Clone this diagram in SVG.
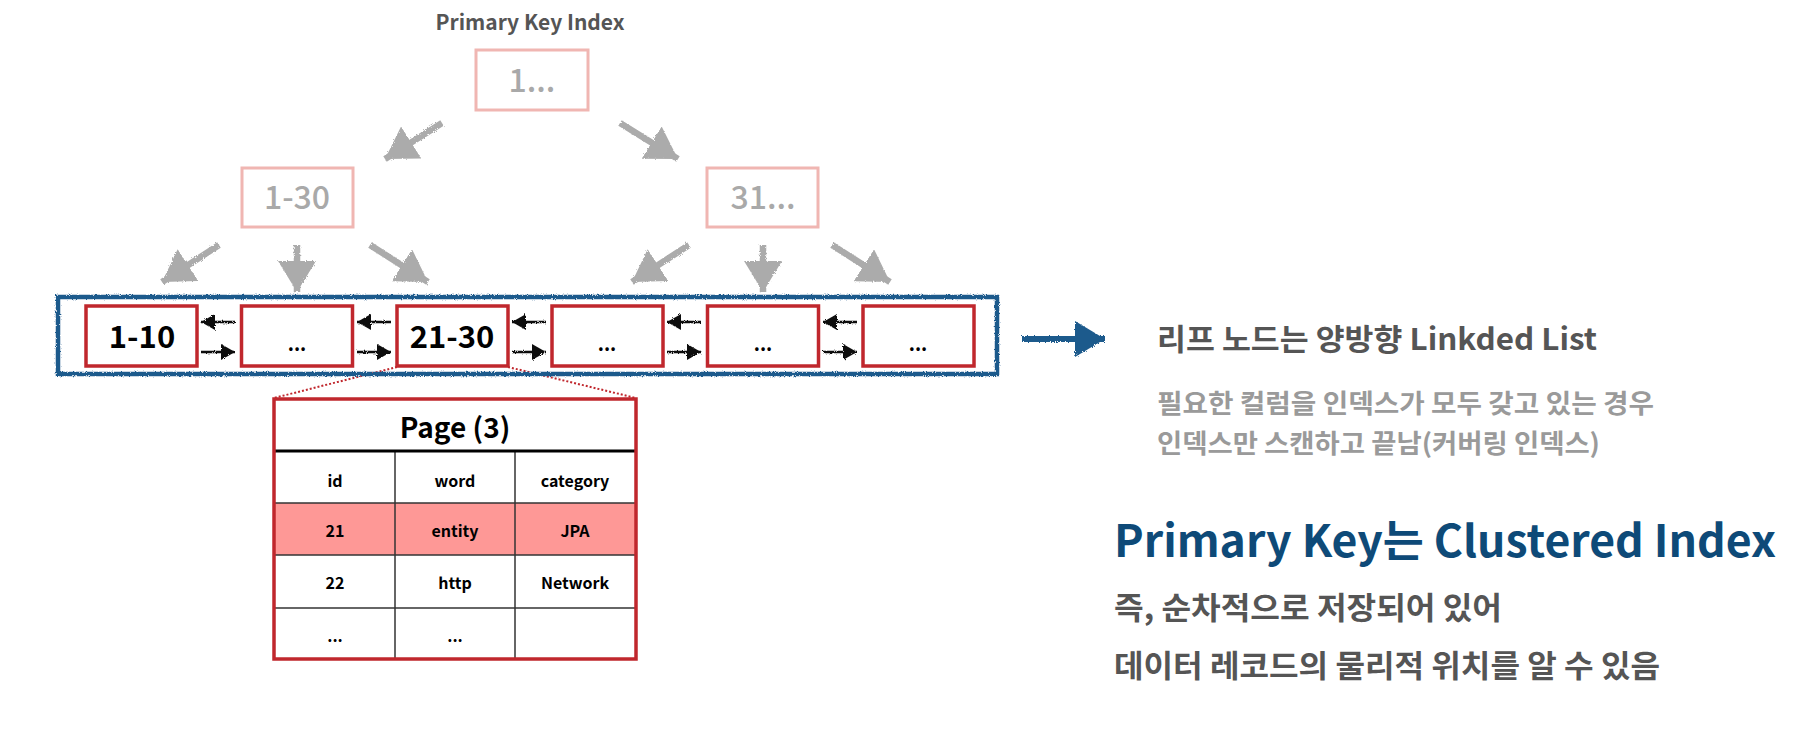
<svg xmlns="http://www.w3.org/2000/svg" width="1808" height="733" viewBox="0 0 1808 733">
<style>
.t{font-family:"Noto Sans CJK KR","Noto Sans",sans-serif}
.tree rect{fill:#fff;stroke:#f0b6b2;stroke-width:3}
.tree text{fill:#a9a9a9;font-size:32px;font-weight:500;text-anchor:middle}
.leaf rect{fill:#fff;stroke:#c0272d;stroke-width:3.5}
.leaf text{fill:#000;font-size:31px;font-weight:700;text-anchor:middle}
.leaf text.dots{font-size:19px}
.garr{stroke:#ababab;stroke-width:6.5;fill:none;marker-end:url(#gh)}
.barr{stroke:#111;stroke-width:2.5;fill:none;marker-end:url(#bh)}
.cell{font-size:16px;font-weight:700;fill:#000;text-anchor:middle}
.grid{stroke:#333;stroke-width:1.5}
</style>
<defs>
<filter id="rough" x="-5%" y="-10%" width="110%" height="120%">
<feTurbulence type="fractalNoise" baseFrequency="0.9" numOctaves="2" seed="3" result="n"/>
<feDisplacementMap in="SourceGraphic" in2="n" scale="3"/>
</filter>
<marker id="gh" markerUnits="userSpaceOnUse" markerWidth="34" markerHeight="40" refX="31" refY="19" orient="auto">
<path d="M0,0 L31,19 L0,38 Z" fill="#ababab"/>
</marker>
<marker id="bh" markerUnits="userSpaceOnUse" markerWidth="15" markerHeight="17" refX="14" refY="8" orient="auto">
<path d="M0,0 L14,8 L0,16 Z" fill="#111"/>
</marker>
<marker id="blh" markerUnits="userSpaceOnUse" markerWidth="32" markerHeight="38" refX="30" refY="18" orient="auto">
<path d="M0,0 L30,18 L0,36 Z" fill="#1d5a8c"/>
</marker>
</defs>
<rect width="1808" height="733" fill="#fff"/>

<text id="title" class="t" x="530" y="30" font-size="21" font-weight="700" fill="#555" text-anchor="middle">Primary Key Index</text>

<g id="connectors" filter="url(#rough)">
<line class="garr" x1="442" y1="123" x2="385" y2="159"/>
<line class="garr" x1="620" y1="123" x2="678" y2="159"/>
<line class="garr" x1="219" y1="245" x2="162" y2="282"/>
<line class="garr" x1="297" y1="245" x2="297" y2="292"/>
<line class="garr" x1="370" y1="245" x2="428" y2="282"/>
<line class="garr" x1="689" y1="245" x2="632" y2="282"/>
<line class="garr" x1="763" y1="245" x2="763" y2="292"/>
<line class="garr" x1="832" y1="245" x2="890" y2="282"/>
<line class="barr" x1="235" y1="322" x2="201" y2="322"/>
<line class="barr" x1="201" y1="352" x2="235" y2="352"/>
<line class="barr" x1="391" y1="322" x2="357" y2="322"/>
<line class="barr" x1="357" y1="352" x2="391" y2="352"/>
<line class="barr" x1="546" y1="322" x2="512" y2="322"/>
<line class="barr" x1="512" y1="352" x2="546" y2="352"/>
<line class="barr" x1="701" y1="322" x2="667" y2="322"/>
<line class="barr" x1="667" y1="352" x2="701" y2="352"/>
<line class="barr" x1="857" y1="322" x2="823" y2="322"/>
<line class="barr" x1="823" y1="352" x2="857" y2="352"/>
<line x1="1022" y1="339" x2="1105" y2="339" stroke="#1d5a8c" stroke-width="6" marker-end="url(#blh)"/>
</g>
<g id="zoom-lines">
<line x1="397" y1="367" x2="274" y2="398" stroke="#c0272d" stroke-width="2" stroke-dasharray="2 2"/>
<line x1="508" y1="367" x2="636" y2="398" stroke="#c0272d" stroke-width="2" stroke-dasharray="2 2"/>
</g>

<g id="root" class="tree t"><rect x="476" y="50" width="112" height="60"/><text x="532" y="92">1...</text></g>
<g id="n1-30" class="tree t"><rect x="242" y="168" width="111" height="59"/><text x="297" y="209">1-30</text></g>
<g id="n31" class="tree t"><rect x="707" y="168" width="111" height="59"/><text x="763" y="209">31...</text></g>

<rect id="leaf-frame" x="58" y="297" width="939" height="77" fill="none" stroke="#1d5a8c" stroke-width="4.5" filter="url(#rough)"/>

<g id="leaf1" class="leaf t"><rect x="86" y="306" width="111" height="60"/><text x="142" y="348">1-10</text></g>
<g id="leaf2" class="leaf t"><rect x="241.5" y="306" width="111" height="60"/><text class="dots" x="297" y="351">...</text></g>
<g id="leaf3" class="leaf t"><rect x="397" y="306" width="111" height="60"/><text x="452" y="348">21-30</text></g>
<g id="leaf4" class="leaf t"><rect x="552" y="306" width="111" height="60"/><text class="dots" x="607" y="351">...</text></g>
<g id="leaf5" class="leaf t"><rect x="707.5" y="306" width="111" height="60"/><text class="dots" x="763" y="351">...</text></g>
<g id="leaf6" class="leaf t"><rect x="863" y="306" width="111" height="60"/><text class="dots" x="918" y="351">...</text></g>

<g id="page-table" class="t">
<rect x="274" y="503" width="362" height="52" fill="#fe9896"/>
<line class="grid" x1="395" y1="451" x2="395" y2="659"/>
<line class="grid" x1="515" y1="451" x2="515" y2="659"/>
<line class="grid" x1="274" y1="503" x2="636" y2="503"/>
<line class="grid" x1="274" y1="555" x2="636" y2="555"/>
<line class="grid" x1="274" y1="608" x2="636" y2="608"/>
<line x1="274" y1="451" x2="636" y2="451" stroke="#000" stroke-width="3"/>
<rect x="274" y="399" width="362" height="260" fill="none" stroke="#c0272d" stroke-width="3.5"/>
<text x="455" y="438" font-size="28" font-weight="700" fill="#000" text-anchor="middle">Page (3)</text>
<text class="cell" x="335" y="487">id</text>
<text class="cell" x="455" y="487">word</text>
<text class="cell" x="575" y="487">category</text>
<text class="cell" x="335" y="537">21</text>
<text class="cell" x="455" y="537">entity</text>
<text class="cell" x="575" y="537">JPA</text>
<text class="cell" x="335" y="589">22</text>
<text class="cell" x="455" y="589">http</text>
<text class="cell" x="575" y="589">Network</text>
<text class="cell" x="335" y="642">...</text>
<text class="cell" x="455" y="642">...</text>
</g>

<g id="notes" class="t">
<text x="1157" y="350" font-size="30" font-weight="700" fill="#555" textLength="440" lengthAdjust="spacingAndGlyphs">리프 노드는 양방향 Linkded List</text>
<text x="1157" y="413" font-size="26" font-weight="700" fill="#9a9a9a" textLength="497" lengthAdjust="spacingAndGlyphs">필요한 컬럼을 인덱스가 모두 갖고 있는 경우</text>
<text x="1157" y="453" font-size="26" font-weight="700" fill="#9a9a9a" textLength="443" lengthAdjust="spacingAndGlyphs">인덱스만 스캔하고 끝남(커버링 인덱스)</text>
<text x="1114" y="557" font-size="44" font-weight="700" fill="#0e4a78" textLength="662" lengthAdjust="spacingAndGlyphs">Primary Key는 Clustered Index</text>
<text x="1114" y="619" font-size="31" font-weight="700" fill="#555" textLength="388" lengthAdjust="spacingAndGlyphs">즉, 순차적으로 저장되어 있어</text>
<text x="1114" y="677" font-size="31" font-weight="700" fill="#555" textLength="546" lengthAdjust="spacingAndGlyphs">데이터 레코드의 물리적 위치를 알 수 있음</text>
</g>
</svg>
